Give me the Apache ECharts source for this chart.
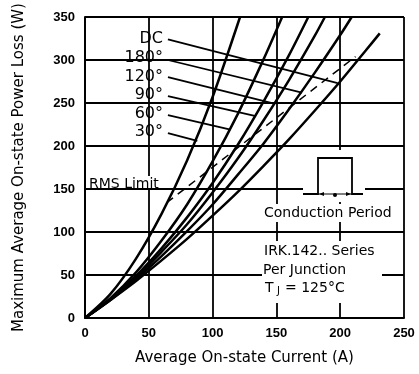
<!DOCTYPE html>
<html>
<head>
<meta charset="utf-8">
<script src="https://cdn.jsdelivr.net/npm/echarts@6/dist/echarts.min.js"></script>
<style>
  html, body { margin: 0; padding: 0; background: #fff; }
  #main { width: 419px; height: 374px; }
</style>
</head>
<body>
<div id="main"></div>
<script>
// curves: [current (A), power loss (W)]
var curve30 = [[0, 0], [20, 28], [40, 69], [60, 121], [80, 183], [100, 257], [121.5, 350]]
var curve60 = [[0, 0], [20, 23], [40, 53], [60, 90], [80, 132], [100, 182], [120, 238], [140, 301], [154.5, 350]]
var curve90 = [[0, 0], [20, 22], [40, 49], [60, 81], [80, 117], [100, 157], [120, 202], [140, 252], [160, 306], [175, 350]]
var curve120 = [[0, 0], [20, 22], [40, 47], [60, 77], [80, 109], [100, 146], [120, 186], [140, 230], [160, 277], [180, 328], [188, 350]]
var curve180 = [[0, 0], [20, 21], [40, 45], [60, 72], [80, 101], [100, 132], [120, 167], [140, 203], [160, 243], [180, 285], [200, 329], [209, 350]]
var curveDC = [[0, 0], [20, 21], [40, 43], [60, 67], [80, 92], [100, 119], [120, 147], [140, 177], [160, 208], [180, 241], [200, 275], [220, 311], [231, 331]]
var rmsLimit = [[64, 134], [212, 304]]

var xTicks = [0, 50, 100, 150, 200, 250]
var yTicks = [0, 50, 100, 150, 200, 250, 300, 350]

var curveNames = ['DC', '180°', '120°', '90°', '60°', '30°']
var curveData = [curveDC, curve180, curve120, curve90, curve60, curve30]
// leader lines from label to curve
var leaders = [
  [[65, 324], [198, 273]],
  [[65, 300], [170, 262]],
  [[65, 280], [149, 249]],
  [[65, 258], [133, 235]],
  [[65, 236], [114, 219]],
  [[65, 215], [88, 206]]
]

var myChart = echarts.init(document.getElementById('main'))

var series = []
curveData.forEach(function (d, i) {
  series.push({
    name: curveNames[i],
    type: 'line',
    data: d,
    smooth: 0.3,
    symbol: 'none',
    lineStyle: { color: '#000', width: 2.5 },
    z: 3
  })
  series.push({
    type: 'line',
    data: leaders[i],
    symbol: 'none',
    lineStyle: { color: '#000', width: 1.8 },
    z: 3
  })
})
series.push({
  name: 'RMS Limit',
  type: 'line',
  data: rmsLimit,
  symbol: 'none',
  lineStyle: { color: '#000', width: 1.5, type: [8, 6] },
  z: 3
})

var font = '"DejaVu Sans", sans-serif'
function txt(x, y, s, size, align) {
  return {
    type: 'text', x: x, y: y, z: 101,
    style: { text: s, font: size + 'px ' + font, fill: '#000', align: align || 'left', verticalAlign: 'middle' }
  }
}
function rect(x, y, w, h) {
  return { type: 'rect', z: 100, shape: { x: x, y: y, width: w, height: h }, style: { fill: '#fff' } }
}
function pl(points, w) {
  return { type: 'polyline', z: 101, shape: { points: points }, style: { stroke: '#000', lineWidth: w || 1.8, fill: null } }
}

var graphics = [
  // angle labels
  txt(163, 39, 'DC', 16, 'right'),
  txt(163, 58, '180°', 16, 'right'),
  txt(163, 77, '120°', 16, 'right'),
  txt(163, 95, '90°', 16, 'right'),
  txt(163, 114, '60°', 16, 'right'),
  txt(163, 132, '30°', 16, 'right'),
  // RMS limit label
  rect(89, 176, 74, 12),
  txt(89, 184, 'RMS Limit', 14),
  // conduction period inset
  rect(303, 150, 62, 52),
  pl([[303, 194], [318, 194], [318, 158], [352, 158], [352, 194], [363, 194]]),
  pl([[318, 194], [352, 194]], 1.2),
  { type: 'polygon', z: 101, shape: { points: [[319, 194], [324, 192], [324, 196]] }, style: { fill: '#000' } },
  { type: 'polygon', z: 101, shape: { points: [[351, 194], [346, 192], [346, 196]] }, style: { fill: '#000' } },
  { type: 'circle', z: 101, shape: { cx: 335, cy: 195, r: 2 }, style: { fill: '#000' } },
  rect(262, 204, 137, 18),
  txt(264, 213, 'Conduction Period', 14),
  rect(262, 241, 120, 62),
  txt(264, 251, 'IRK.142.. Series', 14),
  txt(263, 270, 'Per Junction', 14),
  txt(265, 288, 'T', 14),
  txt(277, 291, 'J', 10),
  txt(285, 288, '= 125°C', 14)
]

var axisCommon = {
  type: 'value',
  axisLine: { show: true, lineStyle: { color: '#000', width: 2 } },
  axisTick: { show: false },
  splitLine: { show: true, lineStyle: { color: '#000', width: 1.8 } },
  axisLabel: { color: '#000', fontFamily: '"Liberation Sans", Arial, sans-serif', fontWeight: 'bold', fontSize: 13 },
  nameLocation: 'middle',
  nameTextStyle: { color: '#000', fontFamily: font, fontSize: 15 }
}

var option = {
  animation: false,
  backgroundColor: '#fff',
  grid: { left: 85, right: 15, top: 17, bottom: 56 },
  xAxis: Object.assign({}, axisCommon, {
    min: xTicks[0], max: xTicks[xTicks.length - 1], interval: 50,
    name: 'Average On-state Current (A)', nameGap: 33,
    axisLabel: Object.assign({}, axisCommon.axisLabel, { margin: 9 })
  }),
  yAxis: Object.assign({}, axisCommon, {
    min: yTicks[0], max: yTicks[yTicks.length - 1], interval: 50,
    name: 'Maximum Average On-state Power Loss (W)', nameGap: 58,
    axisLabel: Object.assign({}, axisCommon.axisLabel, { margin: 10 })
  }),
  series: series,
  graphic: graphics
}
myChart.setOption(option)
</script>
</body>
</html>
